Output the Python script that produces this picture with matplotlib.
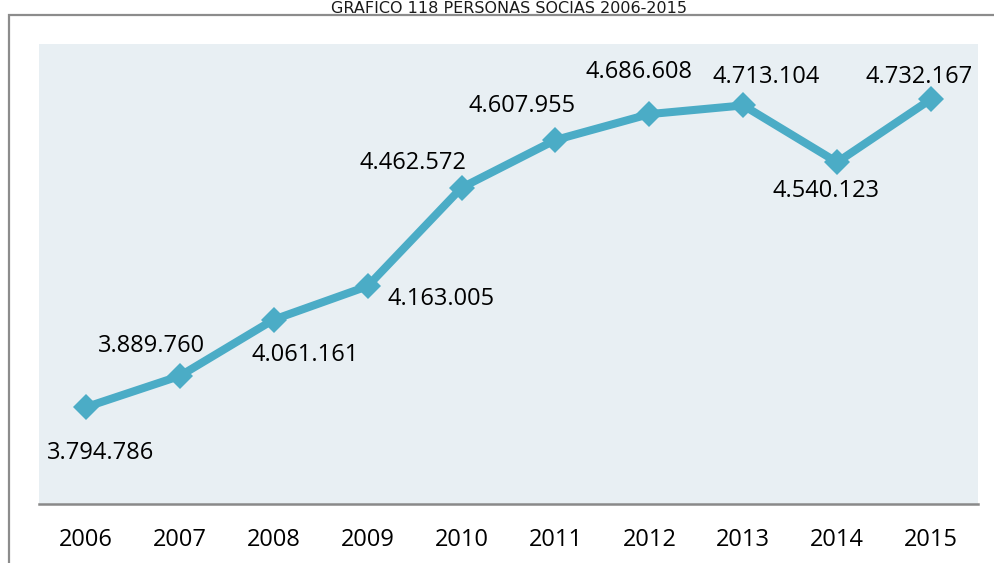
import matplotlib
matplotlib.use("Agg")
import matplotlib.pyplot as plt
from matplotlib.patches import Rectangle

years = ["2006", "2007", "2008", "2009", "2010", "2011", "2012", "2013", "2014", "2015"]
socias = [3794786, 3889760, 4061161, 4163005, 4462572, 4607955, 4686608, 4713104, 4540123, 4732167]
etiquetas = ["3.794.786", "3.889.760", "4.061.161", "4.163.005", "4.462.572",
             "4.607.955", "4.686.608", "4.713.104", "4.540.123", "4.732.167"]

# where each value label sits relative to its point (pixels)
label_offsets = [(15, -46), (-28, 30), (31, -35), (73, -13), (-49, 25),
                 (-33, 34), (-10, 42), (23, 28), (-11, -29), (-12, 22)]

W, H = 994, 563
fig = plt.figure(figsize=(W / 100, H / 100), dpi=100)

# outer frame (only left/top visible, rest falls outside the image)
fig.patches.append(Rectangle((9 / W, -0.1), 1.2, 1.1 - 15 / H,
                             transform=fig.transFigure, fill=False,
                             edgecolor="#8c8c8c", linewidth=1.6, zorder=0))

fig.text(509 / W, 1 - 1 / H, "GRAFICO 118 PERSONAS SOCIAS 2006-2015",
         ha="center", va="top", fontsize=11.5, family="DejaVu Sans",
         color="#1a1a1a")

ax = fig.add_axes([39 / W, (H - 504) / H, 939 / W, 460 / H])
ax.set_facecolor("#e8eff3")

x = list(range(len(years)))
ax.plot(x, socias, color="#4bacc6", linewidth=5.8, marker="D", markersize=13.5,
        markeredgewidth=0, zorder=3)

for i, (txt, off) in enumerate(zip(etiquetas, label_offsets)):
    ax.annotate(txt, (x[i], socias[i]), xytext=off, textcoords="offset pixels",
                ha="center", va="center", fontsize=17, family="Open Sans",
                color="#000000")

ax.set_xlim(-0.5, len(years) - 0.5)
ax.set_ylim(3500000, 4900000)
ax.set_xticks(x)
ax.set_xticklabels(years, fontsize=17, family="Open Sans")
ax.tick_params(axis="x", length=0, pad=17)
ax.set_yticks([])
for s in ["top", "left", "right"]:
    ax.spines[s].set_visible(False)
ax.spines["bottom"].set_color("#898989")
ax.spines["bottom"].set_linewidth(1.8)

fig.savefig("out.png", dpi=100)
